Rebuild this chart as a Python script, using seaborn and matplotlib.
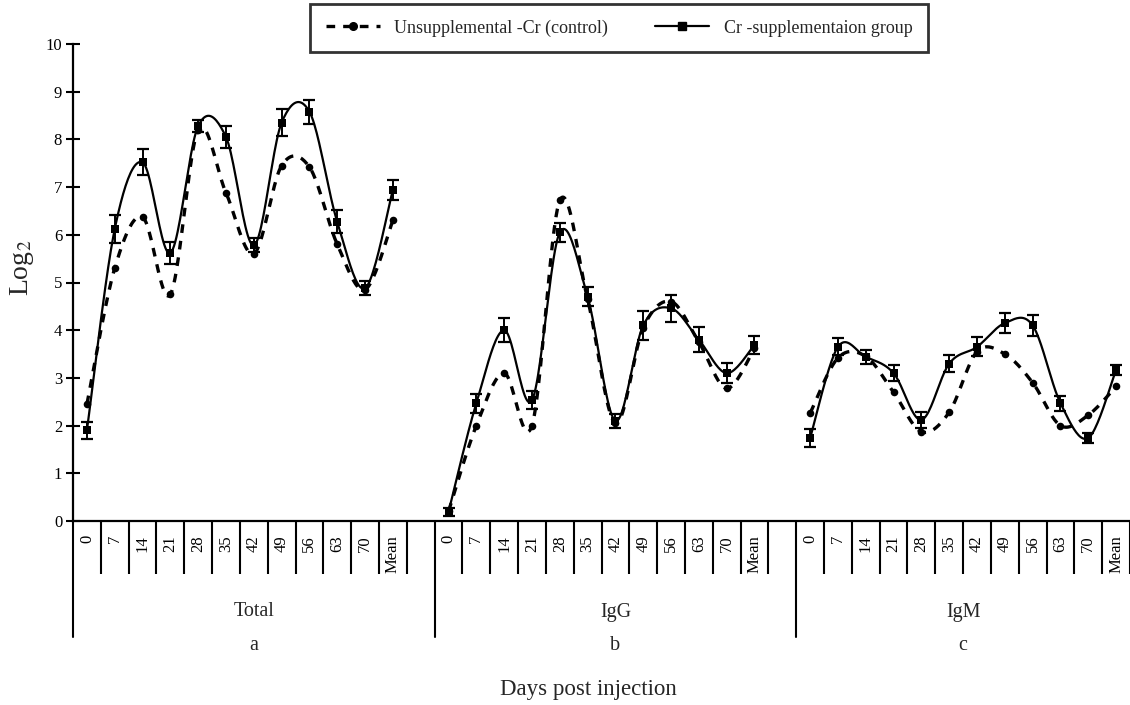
import numpy as np
import pandas as pd
import matplotlib
matplotlib.use("Agg")
import matplotlib.pyplot as plt
import matplotlib.transforms as mtransforms
from matplotlib.lines import Line2D
import seaborn as sns

# ---------------- data ----------------
days = ["0", "7", "14", "21", "28", "35", "42", "49", "56", "63", "70", "Mean"]
groups = ["Total", "IgG", "IgM"]
group_letters = ["a", "b", "c"]

control_total = [2.45, 5.3, 6.37, 4.75, 8.2, 6.88, 5.6, 7.45, 7.42, 5.8, 4.85, 6.3]
cr_total = [1.9, 6.12, 7.52, 5.62, 8.28, 8.05, 5.78, 8.35, 8.58, 6.27, 4.88, 6.94]
cr_total_err = [0.18, 0.3, 0.27, 0.23, 0.12, 0.24, 0.15, 0.28, 0.25, 0.24, 0.15, 0.2]

control_igg = [0.2, 2.0, 3.1, 2.0, 6.72, 4.65, 2.05, 4.05, 4.6, 3.75, 2.78, 3.62]
cr_igg = [0.19, 2.47, 4.0, 2.53, 6.05, 4.7, 2.1, 4.1, 4.46, 3.8, 3.1, 3.69]
cr_igg_err = [0.08, 0.2, 0.25, 0.19, 0.2, 0.2, 0.15, 0.3, 0.28, 0.26, 0.21, 0.18]

control_igm = [2.26, 3.42, 3.45, 2.7, 1.87, 2.28, 3.55, 3.5, 2.9, 2.0, 2.22, 2.82]
cr_igm = [1.74, 3.65, 3.44, 3.1, 2.12, 3.3, 3.65, 4.15, 4.1, 2.47, 1.74, 3.17]
cr_igm_err = [0.18, 0.18, 0.15, 0.17, 0.16, 0.18, 0.2, 0.21, 0.22, 0.16, 0.1, 0.1]

legend_control = "Unsupplemental -Cr (control)"
legend_cr = "Cr -supplementaion group"
x_title = "Days post injection"
y_title = "Log$_2$"

# ---------------- long table ----------------
rows = []
series = {
    "Total": (control_total, cr_total, cr_total_err),
    "IgG": (control_igg, cr_igg, cr_igg_err),
    "IgM": (control_igm, cr_igm, cr_igm_err),
}
SLOTS_PER_GROUP = 13  # 12 categories + one empty slot
for g, name in enumerate(groups):
    c, s, e = series[name]
    for i, d in enumerate(days):
        pos = g * SLOTS_PER_GROUP + i
        rows.append(dict(group=name, day=d, pos=pos, series="control", value=c[i], err=np.nan))
        rows.append(dict(group=name, day=d, pos=pos, series="cr", value=s[i], err=e[i]))
df = pd.DataFrame(rows)


def excel_smooth(x, y, n=24):
    pts = np.column_stack([x, y]).astype(float)
    out = []
    for i in range(len(pts) - 1):
        p0 = pts[i - 1] if i > 0 else pts[i]
        p1, p2 = pts[i], pts[i + 1]
        p3 = pts[i + 2] if i + 2 < len(pts) else pts[i + 1]
        c1 = p1 + (p2 - p0) / 6.0
        c2 = p2 - (p3 - p1) / 6.0
        t = np.linspace(0, 1, n)[:, None]
        seg = (1 - t) ** 3 * p1 + 3 * (1 - t) ** 2 * t * c1 + 3 * (1 - t) * t ** 2 * c2 + t ** 3 * p2
        out.append(seg if i == 0 else seg[1:])
    return np.vstack(out)


# ---------------- figure ----------------
sns.set_theme(style="white")
plt.rcParams["font.family"] = ["Liberation Serif", "DejaVu Serif"]
plt.rcParams["mathtext.fontset"] = "stix"

W, H = 1130, 705
fig = plt.figure(figsize=(W / 100, H / 100), dpi=100)
ax_left, ax_bottom_px, ax_top_px = 73, 521, 44
slot_px = 28.0
x_min = -0.5
x_max = x_min + (W - ax_left) / slot_px
ax = fig.add_axes([ax_left / W, 1 - ax_bottom_px / H, (W - ax_left) / W, (ax_bottom_px - ax_top_px) / H])

dash_style = (0, (2.6, 2.4))
for name in groups:
    sub = df[df.group == name]
    ctrl = sub[sub.series == "control"]
    cr = sub[sub.series == "cr"]
    sc = excel_smooth(ctrl.pos.values, ctrl.value.values)
    ss = excel_smooth(cr.pos.values, cr.value.values)
    ax.plot(sc[:, 0], sc[:, 1], color="black", lw=2.4, linestyle=dash_style, solid_capstyle="butt",
            dash_capstyle="butt", zorder=3)
    ax.plot(ss[:, 0], ss[:, 1], color="black", lw=1.6, zorder=4)
    ax.errorbar(cr.pos.values, cr.value.values, yerr=cr.err.values, fmt="none", ecolor="black",
                elinewidth=1.4, capsize=4.5, capthick=1.6, zorder=5)

sns.scatterplot(data=df[df.series == "control"], x="pos", y="value", ax=ax, color="black",
                marker="o", s=30, edgecolor="black", linewidth=0, zorder=6, legend=False)
sns.scatterplot(data=df[df.series == "cr"], x="pos", y="value", ax=ax, color="black",
                marker="s", s=30, edgecolor="black", linewidth=0, zorder=7, legend=False)

ax.set_xlim(x_min, x_max)
ax.set_ylim(0, 10)
ax.set_xlabel("")
ax.set_ylabel("")

# y axis
ax.set_yticks(range(0, 11))
ax.set_yticklabels([str(v) for v in range(0, 11)], fontsize=12)
ax.tick_params(axis="y", direction="inout", length=9.5, width=1.5, color="black", pad=3,
               left=True, labelcolor="black")

# x axis: categories
major_pos = [g * SLOTS_PER_GROUP + i for g in range(len(groups)) for i in range(len(days))]
ax.set_xticks(major_pos)
ax.set_xticklabels(days * len(groups), rotation=90, fontsize=12, va="top")
ax.tick_params(axis="x", which="major", length=0, pad=10, labelcolor="black")
minor_pos = [g * SLOTS_PER_GROUP + k - 0.5 for g in range(len(groups)) for k in range(1, 13)]
ax.set_xticks(minor_pos, minor=True)
ax.tick_params(axis="x", which="minor", direction="out", length=38, width=1.5, color="black",
               bottom=True)

for side in ["top", "right"]:
    ax.spines[side].set_visible(False)
for side in ["left", "bottom"]:
    ax.spines[side].set_color("black")
    ax.spines[side].set_linewidth(1.6)

trans = mtransforms.blended_transform_factory(ax.transData, ax.transAxes)
ax_h_px = ax_bottom_px - ax_top_px
sep_bottom = -(637 - ax_bottom_px) / ax_h_px
label_y = -(612 - ax_bottom_px) / ax_h_px
letter_y = -(646 - ax_bottom_px) / ax_h_px
for g, name in enumerate(groups):
    start = g * SLOTS_PER_GROUP - 0.5
    ax.plot([start, start], [0, sep_bottom], transform=trans, color="black", lw=1.5, clip_on=False)
    end = start + (SLOTS_PER_GROUP if g < len(groups) - 1 else len(days))
    cx = (start + end) / 2
    ax.text(cx, label_y, name, transform=trans, ha="center", va="center", fontsize=14.5)
    ax.text(cx, letter_y, group_letters[g], transform=trans, ha="center", va="center", fontsize=14.5)

fig.text(588 / W, 1 - 690 / H, x_title, ha="center", va="center", fontsize=16.5)
fig.text(22 / W, 1 - 268 / H, y_title, ha="center", va="center", rotation=90, fontsize=20)

handles = [
    Line2D([], [], color="black", lw=2.4, linestyle=dash_style, marker="o", markersize=5.5,
           dash_capstyle="butt"),
    Line2D([], [], color="black", lw=1.6, marker="s", markersize=5.5),
]
leg = fig.legend(handles, [legend_control, legend_cr], ncol=2, loc="center",
                 bbox_to_anchor=(619 / W, 1 - 28 / H), frameon=True, fancybox=False,
                 edgecolor="black", fontsize=13, handlelength=3.0, handletextpad=0.8,
                 columnspacing=2.6, borderpad=0.85)
leg.get_frame().set_linewidth(2.0)

fig.savefig("out.png", dpi=100, facecolor="white")
